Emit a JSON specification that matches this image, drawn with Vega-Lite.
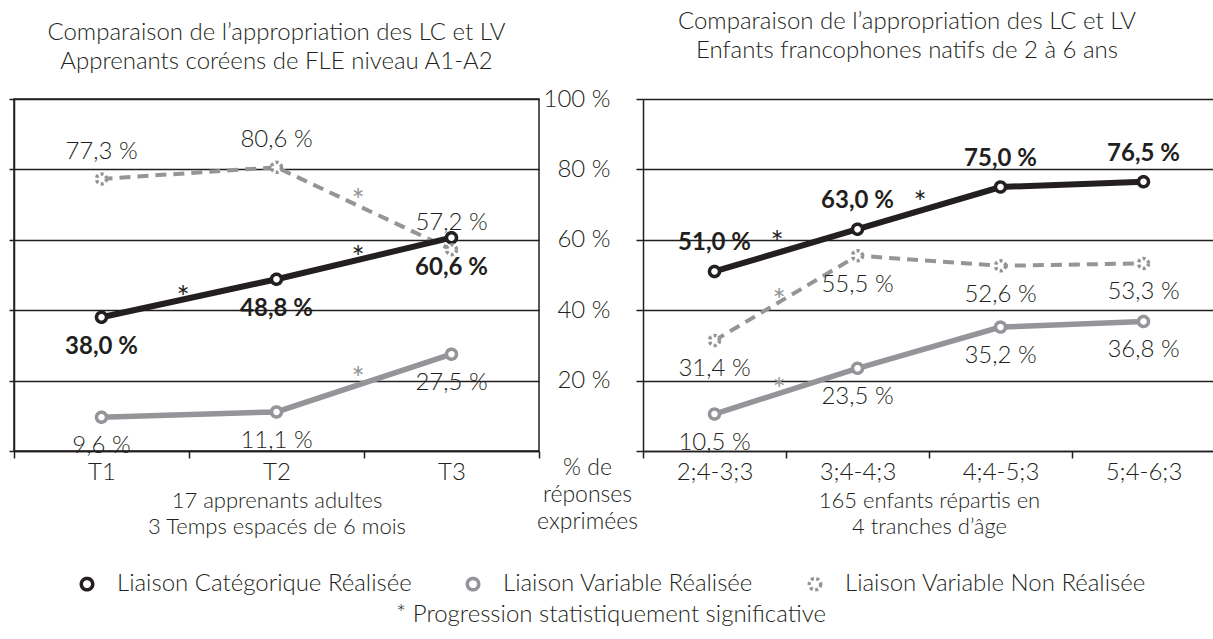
{
  "$schema": "https://vega.github.io/schema/vega-lite/v6.json",
  "padding": {"left": 7, "top": 10, "right": 0, "bottom": 0},
  "background": "white",
  "bounds": "flush",
  "spacing": 104,
  "config": {
    "font": "Lato",
    "view": {"stroke": null},
    "axis": {"labelFont": "Lato", "labelFontWeight": 300, "labelFontSize": 24, "labelColor": "#231f20", "titleFont": "Lato", "titleFontWeight": 300, "titleFontSize": 22, "titleColor": "#231f20", "tickColor": "#231f20", "domainColor": "#231f20", "domainWidth": 1.5, "tickWidth": 1.5},
    "title": {"font": "Lato", "fontWeight": 300, "fontSize": 24, "color": "#231f20", "lineHeight": 29, "anchor": "middle"},
    "legend": {"labelFont": "Lato", "titleFont": "Lato"}
  },
  "datasets": {
    "left": [
      {"t": "T1", "serie": "Liaison Catégorique Réalisée", "v": 38.0},
      {"t": "T2", "serie": "Liaison Catégorique Réalisée", "v": 48.8},
      {"t": "T3", "serie": "Liaison Catégorique Réalisée", "v": 60.6},
      {"t": "T1", "serie": "Liaison Variable Réalisée", "v": 9.6},
      {"t": "T2", "serie": "Liaison Variable Réalisée", "v": 11.1},
      {"t": "T3", "serie": "Liaison Variable Réalisée", "v": 27.5},
      {"t": "T1", "serie": "Liaison Variable Non Réalisée", "v": 77.3},
      {"t": "T2", "serie": "Liaison Variable Non Réalisée", "v": 80.6},
      {"t": "T3", "serie": "Liaison Variable Non Réalisée", "v": 57.2}
    ],
    "right": [
      {"t": "2;4-3;3", "serie": "Liaison Catégorique Réalisée", "v": 51.0},
      {"t": "3;4-4;3", "serie": "Liaison Catégorique Réalisée", "v": 63.0},
      {"t": "4;4-5;3", "serie": "Liaison Catégorique Réalisée", "v": 75.0},
      {"t": "5;4-6;3", "serie": "Liaison Catégorique Réalisée", "v": 76.5},
      {"t": "2;4-3;3", "serie": "Liaison Variable Réalisée", "v": 10.5},
      {"t": "3;4-4;3", "serie": "Liaison Variable Réalisée", "v": 23.5},
      {"t": "4;4-5;3", "serie": "Liaison Variable Réalisée", "v": 35.2},
      {"t": "5;4-6;3", "serie": "Liaison Variable Réalisée", "v": 36.8},
      {"t": "2;4-3;3", "serie": "Liaison Variable Non Réalisée", "v": 31.4},
      {"t": "3;4-4;3", "serie": "Liaison Variable Non Réalisée", "v": 55.5},
      {"t": "4;4-5;3", "serie": "Liaison Variable Non Réalisée", "v": 52.6},
      {"t": "5;4-6;3", "serie": "Liaison Variable Non Réalisée", "v": 53.3}
    ],
    "starsLeft": [
      {"t": "T1", "serie": "Liaison Catégorique Réalisée", "v": 45.7},
      {"t": "T2", "serie": "Liaison Catégorique Réalisée", "v": 57.1},
      {"t": "T2", "serie": "Liaison Variable Non Réalisée", "v": 73.3},
      {"t": "T2", "serie": "Liaison Variable Réalisée", "v": 22.7}
    ],
    "starsRight": [
      {"t": "2;4-3;3", "serie": "Liaison Catégorique Réalisée", "v": 61.4},
      {"t": "3;4-4;3", "serie": "Liaison Catégorique Réalisée", "v": 72.7},
      {"t": "2;4-3;3", "serie": "Liaison Variable Non Réalisée", "v": 44.9},
      {"t": "2;4-3;3", "serie": "Liaison Variable Réalisée", "v": 19.6}
    ]
  },
  "hconcat": [
    {
      "width": 525,
      "height": 352,
      "view": {"stroke": "#231f20", "strokeWidth": 1.5},
      "title": {"text": ["Comparaison de l’appropriation des LC et LV", "Apprenants coréens de FLE niveau A1-A2"], "offset": 24},
      "data": {"name": "left"},
      "transform": [{"calculate": "replace(format(datum.v, '.1f'), '.', ',') + ' %'", "as": "lab"}],
      "encoding": {
        "x": {"field": "t", "type": "nominal", "sort": ["T1", "T2", "T3"], "bandPosition": 0.5,
          "scale": {"type": "band", "paddingInner": 0, "paddingOuter": 0},
          "axis": {"title": ["17 apprenants adultes", "3 Temps espacés de 6 mois"], "labelAngle": 0, "tickBand": "extent", "tickSize": 7, "labelPadding": 2, "titlePadding": 6, "titleLineHeight": 26, "grid": false}},
        "y": {"field": "v", "type": "quantitative", "scale": {"domain": [0, 100], "nice": false},
          "axis": {"values": [0, 20, 40, 60, 80, 100], "labels": false, "tickSize": 5, "grid": true, "gridColor": "#231f20", "gridWidth": 1.5, "title": null}}
      },
      "layer": [
        {"transform": [{"filter": "datum.serie == 'Liaison Variable Non Réalisée'"}], "mark": {"type": "line", "stroke": "#939598", "strokeWidth": 4, "strokeDash": [11, 7]}},
        {"transform": [{"filter": "datum.serie == 'Liaison Variable Réalisée'"}], "mark": {"type": "line", "stroke": "#939598", "strokeWidth": 5.5}},
        {"transform": [{"filter": "datum.serie == 'Liaison Catégorique Réalisée'"}], "mark": {"type": "line", "stroke": "#231f20", "strokeWidth": 6}},
        {"mark": {"type": "point", "shape": "circle", "fill": "white", "fillOpacity": 1, "opacity": 1, "strokeWidth": 3.5, "size": 100},
          "encoding": {
            "stroke": {"field": "serie", "type": "nominal", "scale": {"domain": ["Liaison Catégorique Réalisée", "Liaison Variable Réalisée", "Liaison Variable Non Réalisée"], "range": ["#231f20", "#939598", "#939598"]},
              "legend": {"orient": "none", "legendX": 61, "legendY": 473, "direction": "horizontal", "title": "* Progression statistiquement significative", "titleOrient": "bottom", "titleAnchor": "middle", "titleFontSize": 24, "titleFontWeight": 300, "titleColor": "#231f20", "titlePadding": 6, "titleLimit": 900, "labelFontSize": 24, "labelFontWeight": 300, "labelColor": "#231f20", "labelLimit": 500, "symbolType": "circle", "symbolSize": 130, "symbolStrokeWidth": 3.5, "symbolFillColor": "white", "columnPadding": 48, "labelOffset": 18}},
            "strokeDash": {"field": "serie", "type": "nominal", "scale": {"domain": ["Liaison Catégorique Réalisée", "Liaison Variable Réalisée", "Liaison Variable Non Réalisée"], "range": [[1, 0], [1, 0], [3, 2.5]]},
              "legend": {"orient": "none", "legendX": 61, "legendY": 473, "direction": "horizontal", "title": "* Progression statistiquement significative", "titleOrient": "bottom", "titleAnchor": "middle", "titleFontSize": 24, "titleFontWeight": 300, "titleColor": "#231f20", "titlePadding": 6, "titleLimit": 900, "labelFontSize": 24, "labelFontWeight": 300, "labelColor": "#231f20", "labelLimit": 500, "symbolType": "circle", "symbolSize": 130, "symbolStrokeWidth": 3.5, "symbolFillColor": "white", "columnPadding": 48, "labelOffset": 18}}
          }},
        {"transform": [{"filter": "datum.serie == 'Liaison Catégorique Réalisée'"}], "mark": {"type": "text", "fontSize": 24, "fontWeight": "bold", "color": "#231f20", "dy": 30}, "encoding": {"text": {"field": "lab"}}},
        {"transform": [{"filter": "datum.serie == 'Liaison Variable Réalisée'"}], "mark": {"type": "text", "fontSize": 24, "fontWeight": 300, "color": "#231f20", "dy": 29}, "encoding": {"text": {"field": "lab"}}},
        {"transform": [{"filter": "datum.serie == 'Liaison Variable Non Réalisée'"}], "mark": {"type": "text", "fontSize": 24, "fontWeight": 300, "color": "#231f20", "dy": -27}, "encoding": {"text": {"field": "lab"}}},
        {"data": {"name": "starsLeft"}, "transform": [{"filter": "datum.serie == 'Liaison Catégorique Réalisée'"}], "mark": {"type": "text", "text": "*", "fontSize": 31, "color": "#231f20", "dx": -6, "dy": 9},
          "encoding": {"x": {"field": "t", "type": "nominal", "bandPosition": 1}, "y": {"field": "v", "type": "quantitative"}}},
        {"data": {"name": "starsLeft"}, "transform": [{"filter": "datum.serie != 'Liaison Catégorique Réalisée'"}], "mark": {"type": "text", "text": "*", "fontSize": 31, "color": "#939598", "dx": -6, "dy": 9},
          "encoding": {"x": {"field": "t", "type": "nominal", "bandPosition": 1}, "y": {"field": "v", "type": "quantitative"}}}
      ]
    },
    {
      "width": 572,
      "height": 352,
      "view": {"stroke": null},
      "title": {"text": ["Comparaison de l’appropriation des LC et LV", "Enfants francophones natifs de 2 à 6 ans"], "offset": 24, "dx": -22},
      "data": {"name": "right"},
      "transform": [{"calculate": "replace(format(datum.v, '.1f'), '.', ',') + ' %'", "as": "lab"}],
      "encoding": {
        "x": {"field": "t", "type": "nominal", "sort": ["2;4-3;3", "3;4-4;3", "4;4-5;3", "5;4-6;3"], "bandPosition": 0.5,
          "scale": {"type": "band", "paddingInner": 0, "paddingOuter": 0},
          "axis": {"title": ["165 enfants répartis en", "4 tranches d’âge"], "labelAngle": 0, "tickBand": "extent", "tickSize": 7, "labelPadding": 2, "titlePadding": 6, "titleLineHeight": 26, "grid": false}},
        "y": {"field": "v", "type": "quantitative", "scale": {"domain": [0, 100], "nice": false},
          "axis": {"values": [0, 20, 40, 60, 80, 100], "labelExpr": "datum.value == 0 ? '' : datum.value + ' %'", "tickSize": 7, "labelPadding": 26, "grid": true, "gridColor": "#231f20", "gridWidth": 1.5,
            "title": ["% de", "réponses", "exprimées"], "titleFontSize": 23, "titleAngle": 0, "titleAlign": "center", "titleBaseline": "top", "titleX": -56, "titleY": 357, "titleLineHeight": 27}}
      },
      "layer": [
        {"transform": [{"filter": "datum.serie == 'Liaison Variable Non Réalisée'"}], "mark": {"type": "line", "stroke": "#939598", "strokeWidth": 4, "strokeDash": [11, 7]}},
        {"transform": [{"filter": "datum.serie == 'Liaison Variable Réalisée'"}], "mark": {"type": "line", "stroke": "#939598", "strokeWidth": 5.5}},
        {"transform": [{"filter": "datum.serie == 'Liaison Catégorique Réalisée'"}], "mark": {"type": "line", "stroke": "#231f20", "strokeWidth": 6}},
        {"mark": {"type": "point", "shape": "circle", "fill": "white", "fillOpacity": 1, "opacity": 1, "strokeWidth": 3.5, "size": 100},
          "encoding": {
            "stroke": {"field": "serie", "type": "nominal", "scale": {"domain": ["Liaison Catégorique Réalisée", "Liaison Variable Réalisée", "Liaison Variable Non Réalisée"], "range": ["#231f20", "#939598", "#939598"]},
              "legend": {"orient": "none", "legendX": 61, "legendY": 473, "direction": "horizontal", "title": "* Progression statistiquement significative", "titleOrient": "bottom", "titleAnchor": "middle", "titleFontSize": 24, "titleFontWeight": 300, "titleColor": "#231f20", "titlePadding": 6, "titleLimit": 900, "labelFontSize": 24, "labelFontWeight": 300, "labelColor": "#231f20", "labelLimit": 500, "symbolType": "circle", "symbolSize": 130, "symbolStrokeWidth": 3.5, "symbolFillColor": "white", "columnPadding": 48, "labelOffset": 18}},
            "strokeDash": {"field": "serie", "type": "nominal", "scale": {"domain": ["Liaison Catégorique Réalisée", "Liaison Variable Réalisée", "Liaison Variable Non Réalisée"], "range": [[1, 0], [1, 0], [3, 2.5]]},
              "legend": {"orient": "none", "legendX": 61, "legendY": 473, "direction": "horizontal", "title": "* Progression statistiquement significative", "titleOrient": "bottom", "titleAnchor": "middle", "titleFontSize": 24, "titleFontWeight": 300, "titleColor": "#231f20", "titlePadding": 6, "titleLimit": 900, "labelFontSize": 24, "labelFontWeight": 300, "labelColor": "#231f20", "labelLimit": 500, "symbolType": "circle", "symbolSize": 130, "symbolStrokeWidth": 3.5, "symbolFillColor": "white", "columnPadding": 48, "labelOffset": 18}}
          }},
        {"transform": [{"filter": "datum.serie == 'Liaison Catégorique Réalisée'"}], "mark": {"type": "text", "fontSize": 24, "fontWeight": "bold", "color": "#231f20", "dy": -28}, "encoding": {"text": {"field": "lab"}}},
        {"transform": [{"filter": "datum.serie != 'Liaison Catégorique Réalisée'"}], "mark": {"type": "text", "fontSize": 24, "fontWeight": 300, "color": "#231f20", "dy": 29}, "encoding": {"text": {"field": "lab"}}},
        {"data": {"name": "starsRight"}, "transform": [{"filter": "datum.serie == 'Liaison Catégorique Réalisée'"}], "mark": {"type": "text", "text": "*", "fontSize": 31, "color": "#231f20", "dx": -9, "dy": 9},
          "encoding": {"x": {"field": "t", "type": "nominal", "bandPosition": 1}, "y": {"field": "v", "type": "quantitative"}}},
        {"data": {"name": "starsRight"}, "transform": [{"filter": "datum.serie != 'Liaison Catégorique Réalisée'"}], "mark": {"type": "text", "text": "*", "fontSize": 31, "color": "#939598", "dx": -7, "dy": 9},
          "encoding": {"x": {"field": "t", "type": "nominal", "bandPosition": 1}, "y": {"field": "v", "type": "quantitative"}}}
      ]
    }
  ]
}
